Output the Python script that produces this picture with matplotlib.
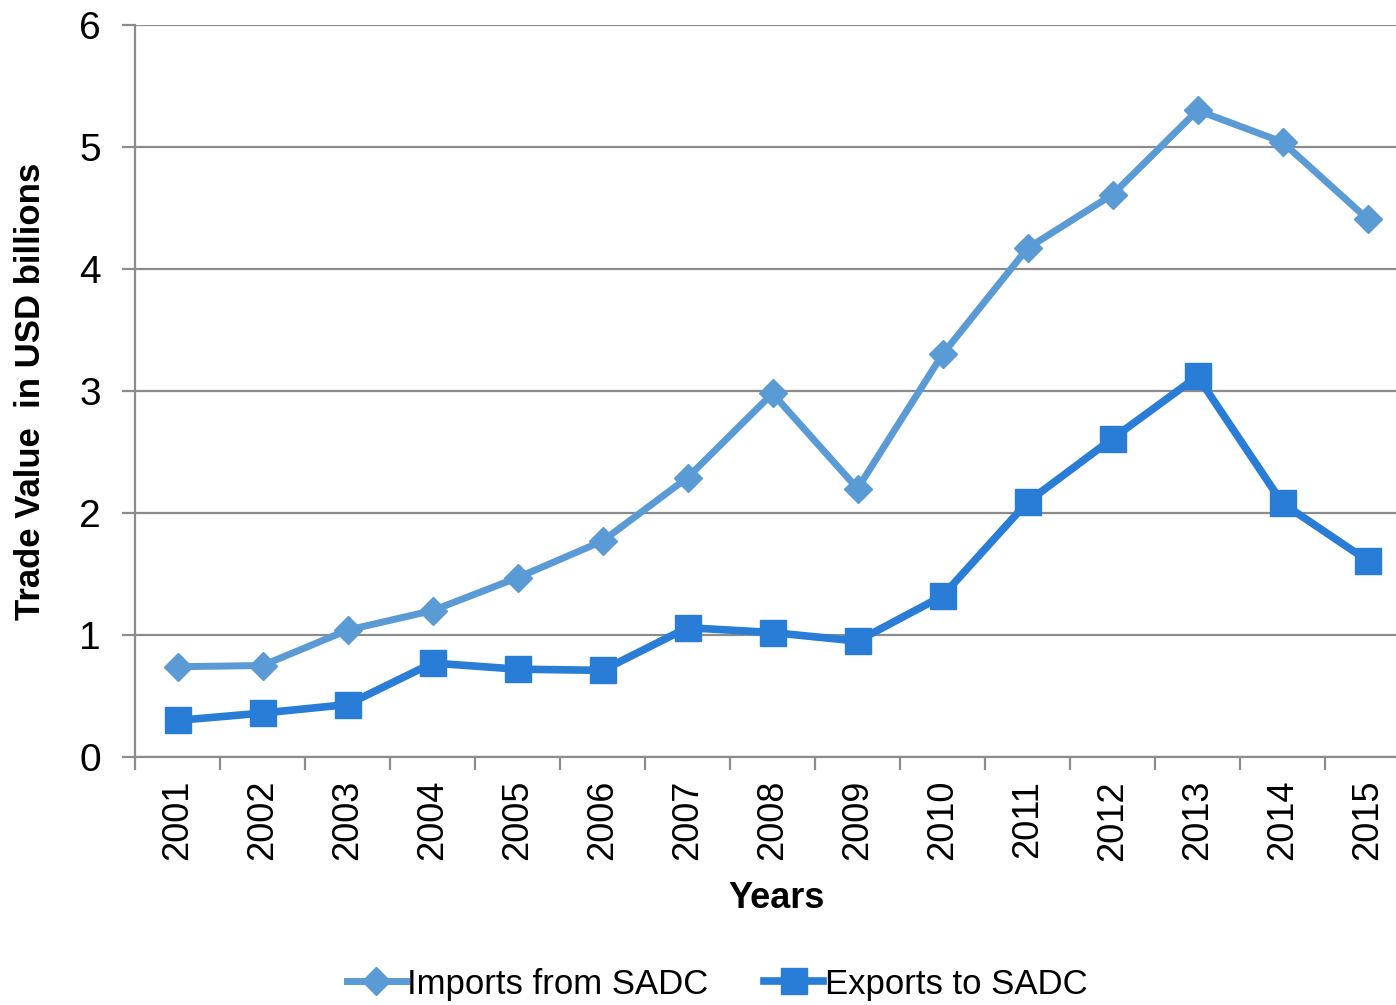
import matplotlib
matplotlib.use("Agg")
import matplotlib.pyplot as plt
import numpy as np

plt.rcParams['font.family'] = ['Liberation Sans', 'DejaVu Sans']

years = ['2001', '2002', '2003', '2004', '2005', '2006', '2007', '2008',
         '2009', '2010', '2011', '2012', '2013', '2014', '2015']
imports_sadc = [0.74, 0.75, 1.04, 1.20, 1.47, 1.77, 2.29, 2.98,
                2.20, 3.30, 4.17, 4.61, 5.30, 5.04, 4.41]
exports_sadc = [0.30, 0.36, 0.43, 0.77, 0.72, 0.71, 1.06, 1.02,
                0.95, 1.32, 2.09, 2.61, 3.12, 2.08, 1.61]

grid_col = '#8c8c8c'

fig = plt.figure(figsize=(13.96, 10.05), dpi=100)
ax = fig.add_axes([135 / 1396, 1 - 757 / 1005, (1410 - 135) / 1396, (757 - 25) / 1005])

x = np.arange(len(years))
ax.plot(x, imports_sadc, color='#5b9bd5', lw=5, marker='D', ms=14.5,
        label='Imports from SADC', solid_joinstyle='round')
ax.plot(x, exports_sadc, color='#2a7dd6', lw=5.5, marker='s', ms=19,
        label='Exports to SADC', solid_joinstyle='round')

ax.set_xlim(-0.5, len(years) - 0.5)
ax.set_ylim(0, 6)
ax.set_yticks(range(0, 7))
ax.yaxis.grid(True, color=grid_col, lw=1.6)
ax.set_axisbelow(True)

for s in ['top', 'right']:
    ax.spines[s].set_visible(False)
for s in ['left', 'bottom']:
    ax.spines[s].set_color(grid_col)
    ax.spines[s].set_linewidth(1.6)

ax.set_xticks(x)
ax.set_xticklabels(years, rotation=90)
ax.set_xticks(np.arange(-0.5, len(years), 1), minor=True)
ax.tick_params(axis='x', which='major', length=0, pad=16.5, labelsize=26)
ax.tick_params(axis='x', which='minor', length=9.5, width=1.6, color=grid_col)
ax.tick_params(axis='y', length=9.5, width=1.6, color=grid_col, pad=15, labelsize=28)

ax.set_xlabel('Years', fontsize=26, fontweight='bold')
ax.xaxis.set_label_coords(0.503, -0.169)
ax.set_ylabel('Trade Value  in USD billions', fontsize=25, fontweight='bold')
ax.yaxis.set_label_coords(-0.069, 0.5)

fig.legend(loc='center', bbox_to_anchor=(717 / 1396, 1 - 984 / 1005), ncol=2,
           frameon=False, fontsize=25, handlelength=1.7, handletextpad=0.05,
           columnspacing=1.6)

fig.savefig('out.png', dpi=100)
